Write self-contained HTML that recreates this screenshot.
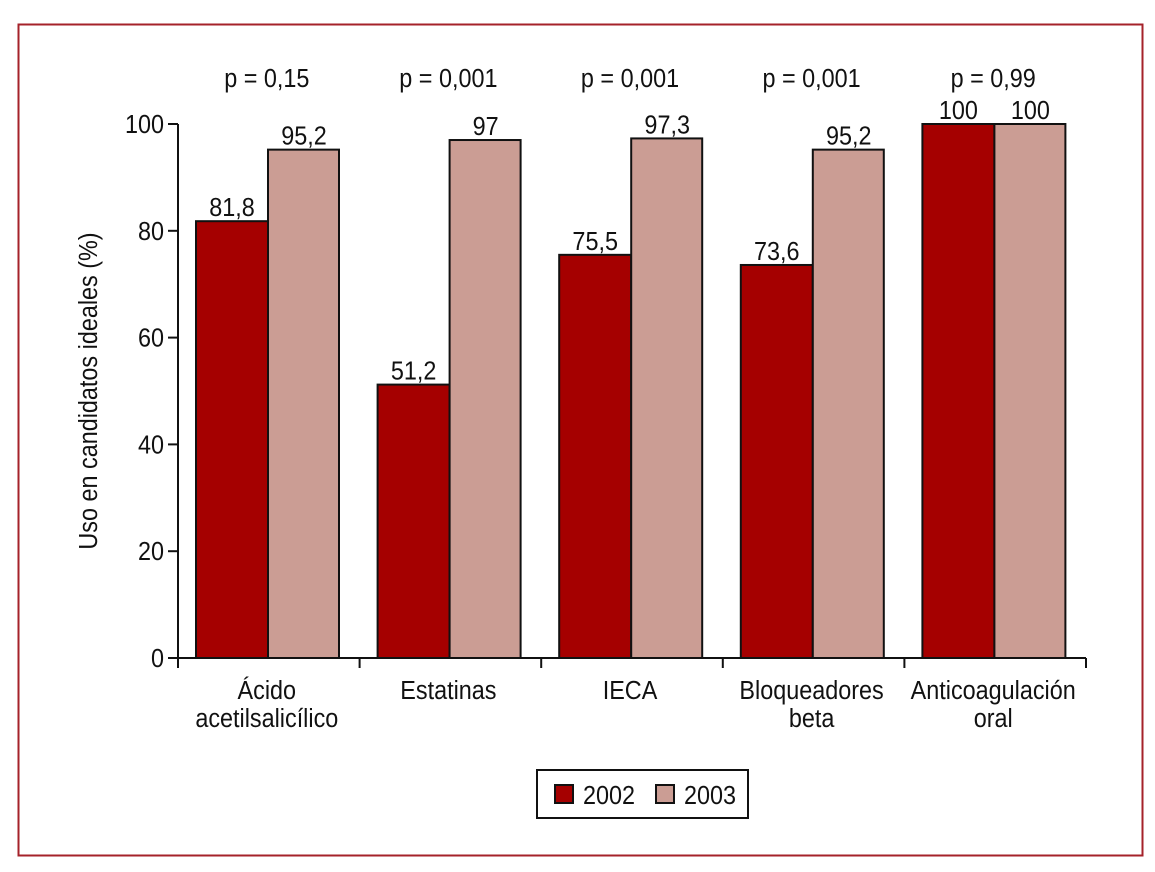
<!DOCTYPE html>
<html><head><meta charset="utf-8"><style>
html,body{margin:0;padding:0;background:#fff;}
svg text{font-family:"Liberation Sans Narrow","Liberation Sans",sans-serif;fill:#111;}
</style></head><body>
<svg id="chart" width="1155" height="867" xmlns="http://www.w3.org/2000/svg">
<rect x="18.5" y="24.5" width="1124" height="831" fill="#fff" stroke="#a5222a" stroke-width="2"/>
<g id="plot"></g>
</svg>
<script>
const categories=[["Ácido","acetilsalicílico"],["Estatinas"],["IECA"],["Bloqueadores","beta"],["Anticoagulación","oral"]];
const values2002=[81.8,51.2,75.5,73.6,100];
const values2003=[95.2,97,97.3,95.2,100];
const labels2002=["81,8","51,2","75,5","73,6","100"];
const labels2003=["95,2","97","97,3","95,2","100"];
const pValues=["p = 0,15","p = 0,001","p = 0,001","p = 0,001","p = 0,99"];
const yTicks=[0,20,40,60,80,100];
const NS="http://www.w3.org/2000/svg";
const g=document.getElementById('plot');
const x0=178,x1=1086,y0=658,y1=124;
const gw=(x1-x0)/categories.length;
const ys=v=>y0-(v/100)*(y0-y1);
const xs=i=>x0+i*gw;
const SX=0.9;
function mk(t,a,txt){const e=document.createElementNS(NS,t);for(const k in a)e.setAttribute(k,a[k]);if(txt!==undefined)e.textContent=txt;g.appendChild(e);return e;}
function tx(x,y,anchor,txt,rot){const e=document.createElementNS(NS,'text');e.setAttribute('x',0);e.setAttribute('y',0);e.setAttribute('text-anchor',anchor);e.setAttribute('font-size',26);e.setAttribute('transform','translate('+x+','+y+')'+(rot?' rotate(-90)':'')+' scale('+SX+',1)');e.textContent=txt;g.appendChild(e);return e;}
let e=mk('line',{x1:x0,y1:y1,x2:x0,y2:y0,stroke:'#111','stroke-width':2});


e=mk('line',{x1:x0,y1:y0,x2:x1,y2:y0,stroke:'#111','stroke-width':2});


yTicks.forEach(v=>{
 e=mk('line',{x1:x0-10,y1:ys(v),x2:x0,y2:ys(v),stroke:'#111','stroke-width':2});
 
 
 e=tx(x0-14,ys(v)+9,'end',String(v));
 
 
});
for(let i=0;i<=categories.length;i++){
 e=mk('line',{x1:xs(i),y1:y0,x2:xs(i),y2:y0+10,stroke:'#111','stroke-width':2});
 
 
}
const bw=72,off=18;
categories.forEach((c,i)=>{
 const bx=xs(i)+off;
 e=mk('rect',{x:bx,y:ys(values2002[i]),width:bw,height:y0-ys(values2002[i]),fill:'#a50000',stroke:'#111','stroke-width':2});
 
 
 e=mk('rect',{x:bx+bw,y:ys(values2003[i]),width:bw-1,height:y0-ys(values2003[i]),fill:'#cb9d94',stroke:'#111','stroke-width':2});
 
 
 e=tx(bx+bw/2,ys(values2002[i])-5,'middle',labels2002[i]);
 
 
 e=tx(bx+bw*1.5,ys(values2003[i])-5,'middle',labels2003[i]);
 
 
 e=tx(xs(i)+gw/2-2,87,'middle',pValues[i]);
 
 
 c.forEach((ln,j)=>{
  e=tx(xs(i)+gw/2-2,699+j*28,'middle',ln);
  
  
 });
});
e=tx(97,391,'middle','Uso en candidatos ideales (%)',true);


e=mk('rect',{x:537,y:770,width:211,height:48,fill:'#fff',stroke:'#111','stroke-width':2});


e=mk('rect',{x:555,y:785,width:18,height:18,fill:'#a50000',stroke:'#111','stroke-width':2});


e=tx(583,804,'start','2002');


e=mk('rect',{x:656,y:785,width:18,height:18,fill:'#cb9d94',stroke:'#111','stroke-width':2});


e=tx(684,804,'start','2003');


</script>
</body></html>
